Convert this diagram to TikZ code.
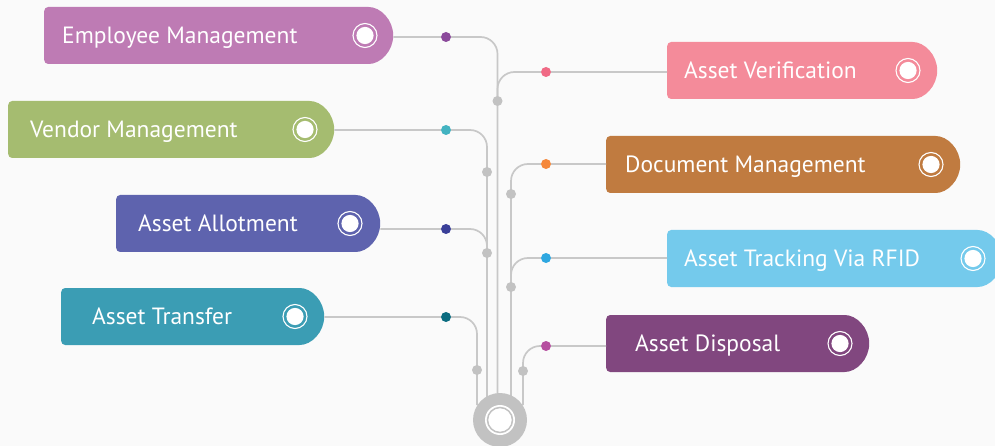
\documentclass[tikz,border=0pt]{standalone}
\usepackage{fontspec}
\setmainfont{PT Sans}
\usetikzlibrary{shapes.misc}
\definecolor{paper}{HTML}{FAFAFA}
\definecolor{wire}{HTML}{C8C8C8}
\definecolor{knot}{HTML}{C2C2C2}
\definecolor{empc}{HTML}{BE7BB4}
\definecolor{venc}{HTML}{A5BC70}
\definecolor{allc}{HTML}{5E63AE}
\definecolor{trac}{HTML}{3B9DB4}
\definecolor{verc}{HTML}{F48B9A}
\definecolor{docc}{HTML}{C07B40}
\definecolor{trkc}{HTML}{74CAEC}
\definecolor{disc}{HTML}{81477F}
\definecolor{empd}{HTML}{8B4A9B}
\definecolor{vend}{HTML}{43B3C1}
\definecolor{alld}{HTML}{3A3F98}
\definecolor{trad}{HTML}{0B6C80}
\definecolor{verd}{HTML}{F06A85}
\definecolor{docd}{HTML}{F5883B}
\definecolor{trkd}{HTML}{2EA7E0}
\definecolor{disd}{HTML}{B64FA0}
\tikzset{
  tag/.style={rounded rectangle, rounded rectangle west arc=none, rounded corners=4pt,
    minimum height=57pt, inner sep=0pt, anchor=west},
  lbl/.style={anchor=base west, inner sep=0pt, text=white, font=\fontsize{23.5}{28}\selectfont},
  ring/.style={circle, draw=white, line width=1.1pt, minimum size=24pt, inner sep=0pt,
    path picture={\fill[white] (path picture bounding box.center) circle (8.6pt);}},
  dot/.style={circle, minimum size=10pt, inner sep=0pt},
  joint/.style={circle, fill=knot, minimum size=10pt, inner sep=0pt},
  link/.style={draw=wire, line width=1.7pt, rounded corners=17pt},
}
\begin{document}
\begin{tikzpicture}[x=1pt,y=-1pt]
\fill[paper] (0,0) rectangle (995,446);
\useasboundingbox (0,0) rectangle (995,446);
% ends at the hub
\coordinate (hub) at (500,420);
\coordinate (h1) at (477,405);
\coordinate (h2) at (487,405);
\coordinate (h3) at (497.5,405);
\coordinate (h4) at (511,405);
\coordinate (h5) at (523,405);
\coordinate (vj) at (497.5,101);
\coordinate (aj) at (487,253);
\coordinate (tj) at (511,287);

% left side
\node[tag,fill=empc,minimum width=349pt] (emp) at (44,35.5) {};
\node[lbl] (empt) at (62,43.5) {Employee Management};
\node[ring] (empi) at (365,35.5) {};
\node[dot,fill=empd] (empdot) at (446,37) {};

\node[tag,fill=venc,minimum width=326pt] (ven) at (8,129.5) {};
\node[lbl] (vent) at (30,137.5) {Vendor Management};
\node[ring] (veni) at (305,129.5) {};
\node[dot,fill=vend] (vendot) at (446,130) {};

\node[tag,fill=allc,minimum width=264pt] (all) at (116,223.5) {};
\node[lbl] (allt) at (138,231.5) {Asset Allotment};
\node[ring] (alli) at (350,223.5) {};
\node[dot,fill=alld] (alldot) at (446,229) {};

\node[tag,fill=trac,minimum width=263pt] (tra) at (61,316.5) {};
\node[lbl] (trat) at (92,324.5) {Asset Transfer};
\node[ring] (trai) at (295,316.5) {};
\node[dot,fill=trad] (tradot) at (446,317) {};

% right side
\node[tag,fill=verc,minimum width=270pt] (ver) at (667,70.5) {};
\node[lbl] (vert) at (684,78.5) {Asset Verification};
\node[ring] (veri) at (908,70.5) {};
\node[dot,fill=verd] (verdot) at (546,72) {};

\node[tag,fill=docc,minimum width=354pt] (doc) at (606,164.5) {};
\node[lbl] (doct) at (625,172.5) {Document Management};
\node[ring] (doci) at (931,164.5) {};
\node[dot,fill=docd] (docdot) at (546,164) {};

\node[tag,fill=trkc,minimum width=335pt] (trk) at (667,258.5) {};
\node[lbl] (trkt) at (684,266.5) {Asset Tracking Via RFID};
\node[ring] (trki) at (973,258.5) {};
\node[dot,fill=trkd] (trkdot) at (546,258) {};

\node[tag,fill=disc,minimum width=263pt] (dis) at (606,343.5) {};
\node[lbl] (dist) at (635,351.5) {Asset Disposal};
\node[ring] (disi) at (840,343.5) {};
\node[dot,fill=disd] (disdot) at (546,346) {};

% wires
\draw[link] (emp.east |- empdot) -- (empdot) -| (h3);
\draw[link] (ven.east |- vendot) -- (vendot) -| (h2);
\draw[link] (all.east |- alldot) -- (alldot) -| (aj);
\draw[link] (tra.east |- tradot) -- (tradot) -| (h1);
\draw[link] (ver.west |- verdot) -- (verdot) -| (vj);
\draw[link] (doc.west |- docdot) -- (docdot) -| (h4);
\draw[link] (trk.west |- trkdot) -- (trkdot) -| (tj);
\draw[link] (dis.west |- disdot) -- (disdot) -| (h5);

% joints
\foreach \n/\x/\y in {j1/497.5/101, j2/487/172, j3/487/253, j4/477/370,
    j5/511/194, j6/511/287, j7/523/371}
  \node[joint] (\n) at (\x,\y) {};

% hub
\node[circle, fill=knot, minimum size=54pt, inner sep=0pt] (huba) at (hub) {};
\node[circle, fill=white, minimum size=30pt, inner sep=0pt] (hubb) at (hub) {};
\node[circle, draw=knot, line width=1.5pt, fill=white, minimum size=25pt, inner sep=0pt] (hubc) at (hub) {};
\end{tikzpicture}
\end{document}
